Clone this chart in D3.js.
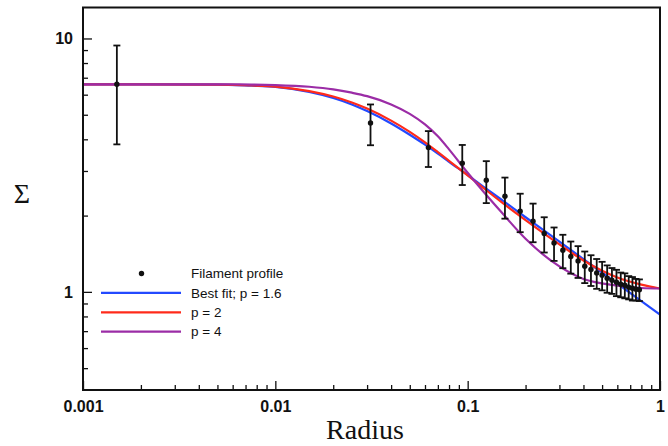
<!DOCTYPE html>
<html>
<head>
<meta charset="utf-8">
<script src="https://cdn.jsdelivr.net/npm/d3@7"></script>
<style>
    body { margin: 0; background: #fff; }
    .tickLabel { font-family: "Liberation Sans", Arial, sans-serif; font-size: 16px; font-weight: bold; fill: #111; }
    .legendText { font-family: "Liberation Sans", Arial, sans-serif; font-size: 13.5px; fill: #111; }
    .axisTitle { font-family: "Liberation Serif", "Times New Roman", serif; font-size: 28px; fill: #111; }
</style>
</head>
<body>
<script>
//filament profile data points (radius, surface density, error)
var radius = [0.0015, 0.03125, 0.0625, 0.09375, 0.125, 0.15625, 0.1875, 0.21875, 0.25, 0.28125,
    0.3125, 0.34375, 0.375, 0.40625, 0.4375, 0.46875, 0.5, 0.53125, 0.5625, 0.59375,
    0.625, 0.65625, 0.6875, 0.71875, 0.75, 0.78125];
var sigma = [6.6, 4.64, 3.71, 3.22, 2.76, 2.385, 2.08, 1.90, 1.70, 1.56,
    1.46, 1.38, 1.325, 1.263, 1.225, 1.188, 1.164, 1.132, 1.112, 1.092,
    1.072, 1.063, 1.044, 1.034, 1.025, 1.02];
var sigmaErr = [2.78, 0.85, 0.6, 0.58, 0.52, 0.44, 0.36, 0.33, 0.27, 0.235,
    0.22, 0.2, 0.19, 0.18, 0.17, 0.16, 0.15, 0.14, 0.13, 0.13,
    0.12, 0.12, 0.11, 0.11, 0.1, 0.1];

//model curves
var modelRadius = [0.001, 0.005, 0.0075, 0.01, 0.015, 0.02, 0.025, 0.03, 0.04, 0.05, 0.06, 0.07, 0.08,
    0.1, 0.12, 0.15, 0.2, 0.3, 0.4, 0.5, 0.6, 0.8, 1.0];
var bestFit = [6.59, 6.58, 6.51, 6.44, 6.15, 5.82, 5.49, 5.17, 4.62, 4.17, 3.81, 3.51, 3.26,
    2.89, 2.61, 2.31, 1.97, 1.578, 1.347, 1.191, 1.077, 0.920, 0.813];
var pTwo = [6.59, 6.58, 6.53, 6.46, 6.20, 5.90, 5.59, 5.29, 4.74, 4.28, 3.89, 3.56, 3.29,
    2.88, 2.58, 2.26, 1.92, 1.54, 1.33, 1.212, 1.14, 1.068, 1.031];
var pFour = [6.59, 6.59, 6.58, 6.55, 6.45, 6.30, 6.11, 5.92, 5.49, 5.04, 4.58, 4.11, 3.65,
    2.95, 2.50, 2.06, 1.62, 1.26, 1.125, 1.08, 1.058, 1.036, 1.031];

var seriesNames = ["Best fit; p = 1.6", "p = 2", "p = 4"];
var seriesColors = ["#2349ff", "#ff2a1a", "#9b2ca6"];

var xTickLabels = ["0.001", "0.01", "0.1", "1"];
var yTickLabels = ["1", "10"];

window.onload = setChart();

function setChart(){
    //frame
    var width = 668,
        height = 446,
        left = 83,
        right = 660,
        top = 7.5,
        bottom = 390;

    var svg = d3.select("body")
        .append("svg")
        .attr("width", width)
        .attr("height", height);

    //log scales on both axes
    var x = d3.scaleLog()
        .domain([0.001, 1])
        .range([left, right]);

    var y = d3.scaleLog()
        .domain([0.41, 13.25])
        .range([bottom, top]);

    //clip for the curves
    svg.append("clipPath")
        .attr("id", "plotClip")
        .append("rect")
        .attr("x", left)
        .attr("y", top)
        .attr("width", right - left)
        .attr("height", bottom - top);

    //minor ticks - every integer multiple inside each decade
    var xMinor = [],
        yMinor = [];
    [0.001, 0.01, 0.1].forEach(function(d){
        for (var k = 2; k < 10; k++) xMinor.push(d * k);
    });
    [0.1, 1].forEach(function(d){
        for (var k = 2; k < 10; k++) if (d * k >= 0.45) yMinor.push(d * k);
    });

    var xMajor = xTickLabels.map(Number),
        yMajor = yTickLabels.map(Number);

    //bottom axis, ticks pointing inwards
    svg.append("g")
        .attr("transform", "translate(0," + bottom + ")")
        .call(d3.axisBottom(x).tickValues(xMinor).tickSize(-5).tickSizeOuter(0).tickFormat(""));
    svg.append("g")
        .attr("transform", "translate(0," + bottom + ")")
        .call(d3.axisBottom(x).tickValues(xMajor).tickSize(-9).tickSizeOuter(0).tickPadding(11)
            .tickFormat(function(d, i){ return xTickLabels[i]; }));

    //left axis
    svg.append("g")
        .attr("transform", "translate(" + left + ",0)")
        .call(d3.axisLeft(y).tickValues(yMinor).tickSize(-5).tickSizeOuter(0).tickFormat(""));
    svg.append("g")
        .attr("transform", "translate(" + left + ",0)")
        .call(d3.axisLeft(y).tickValues(yMajor).tickSize(-9).tickSizeOuter(0).tickPadding(10)
            .tickFormat(function(d, i){ return yTickLabels[i]; }));

    svg.selectAll(".domain").remove();
    svg.selectAll(".tick line")
        .attr("stroke", "#111")
        .attr("stroke-width", 1.3);
    svg.selectAll(".tick text")
        .attr("class", "tickLabel")
        .attr("fill", null);

    //model curves
    var curveData = [bestFit, pTwo, pFour];
    var line = d3.line()
        .x(function(d, i){ return x(modelRadius[i]); })
        .y(function(d){ return y(d); })
        .curve(d3.curveMonotoneX);

    svg.append("g")
        .attr("clip-path", "url(#plotClip)")
        .selectAll(".model")
        .data(curveData)
        .enter()
        .append("path")
        .attr("class", "model")
        .attr("d", line)
        .attr("fill", "none")
        .attr("stroke", function(d, i){ return seriesColors[i]; })
        .attr("stroke-width", 2.2);

    //error bars and points
    var points = radius.map(function(r, i){
        return {r: r, v: sigma[i], e: sigmaErr[i]};
    });

    var bars = svg.append("g")
        .selectAll(".errBar")
        .data(points)
        .enter()
        .append("g")
        .attr("class", "errBar")
        .attr("stroke", "#111")
        .attr("stroke-width", 1.8);

    bars.append("line")
        .attr("x1", function(d){ return x(d.r); })
        .attr("x2", function(d){ return x(d.r); })
        .attr("y1", function(d){ return y(d.v + d.e); })
        .attr("y2", function(d){ return y(d.v - d.e); });
    bars.append("line")
        .attr("x1", function(d){ return x(d.r) - 3.5; })
        .attr("x2", function(d){ return x(d.r) + 3.5; })
        .attr("y1", function(d){ return y(d.v + d.e); })
        .attr("y2", function(d){ return y(d.v + d.e); });
    bars.append("line")
        .attr("x1", function(d){ return x(d.r) - 3.5; })
        .attr("x2", function(d){ return x(d.r) + 3.5; })
        .attr("y1", function(d){ return y(d.v - d.e); })
        .attr("y2", function(d){ return y(d.v - d.e); });

    svg.append("g")
        .selectAll(".pt")
        .data(points)
        .enter()
        .append("circle")
        .attr("class", "pt")
        .attr("cx", function(d){ return x(d.r); })
        .attr("cy", function(d){ return y(d.v); })
        .attr("r", 2.7)
        .attr("fill", "#111");

    //plot frame
    svg.append("rect")
        .attr("x", left)
        .attr("y", top)
        .attr("width", right - left)
        .attr("height", bottom - top)
        .attr("fill", "none")
        .attr("stroke", "#111")
        .attr("stroke-width", 2);

    //legend
    var legend = svg.append("g")
        .attr("transform", "translate(101,273.5)");

    legend.append("circle")
        .attr("cx", 40.5)
        .attr("cy", 0)
        .attr("r", 2.7)
        .attr("fill", "#111");
    legend.append("text")
        .attr("class", "legendText")
        .attr("x", 90)
        .attr("y", 0)
        .attr("dy", "0.35em")
        .text("Filament profile");

    var rows = legend.selectAll(".legendRow")
        .data(seriesNames)
        .enter()
        .append("g")
        .attr("class", "legendRow")
        .attr("transform", function(d, i){ return "translate(0," + (19.4 * (i + 1)) + ")"; });
    rows.append("line")
        .attr("x1", 0)
        .attr("x2", 80)
        .attr("stroke", function(d, i){ return seriesColors[i]; })
        .attr("stroke-width", 2.2);
    rows.append("text")
        .attr("class", "legendText")
        .attr("x", 90)
        .attr("dy", "0.35em")
        .text(function(d){ return d; });

    //axis titles
    svg.append("text")
        .attr("class", "axisTitle")
        .attr("x", 365)
        .attr("y", 439)
        .attr("text-anchor", "middle")
        .text("Radius");

    svg.append("text")
        .attr("class", "axisTitle")
        .attr("x", 22)
        .attr("y", 203)
        .attr("text-anchor", "middle")
        .text("Σ");
};
</script>
</body>
</html>
